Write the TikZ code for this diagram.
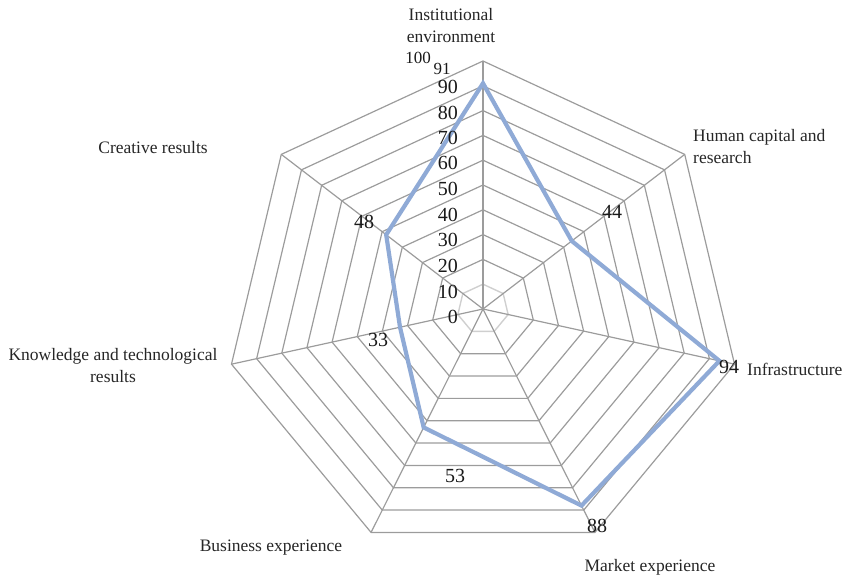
\documentclass[tikz,border=0pt]{standalone}
\usepackage{fontspec}
\setmainfont{Liberation Serif}
\definecolor{gridc}{HTML}{9C9C9C}
\definecolor{gridlight}{HTML}{CFCFCF}
\definecolor{serc}{RGB}{143,170,214}
\begin{document}
\begin{tikzpicture}[x=1pt,y=-1pt,
  cat/.style={font=\fontsize{17.5}{22}\selectfont, inner sep=0pt, text=black!85},
  num/.style={font=\fontsize{20}{20}\selectfont, inner sep=0pt, text=black!90},
  smallnum/.style={font=\fontsize{17}{17}\selectfont, inner sep=0pt, text=black!90},
  gridline/.style={draw=gridc, line width=1.2pt},
  innerline/.style={draw=gridlight, line width=1.4pt},
  series/.style={draw=serc, line width=4.2pt, line join=miter},
  ]
\useasboundingbox (0,0) rectangle (846,577);
\begin{scope}[shift={(483,309)}, x=2.58pt, y=2.48pt]
  \foreach \r in {20,30,...,100}
    \draw[gridline] (90:\r) \foreach \k in {1,...,6} { -- ({90-\k*360/7}:\r) } -- cycle;
  \draw[innerline] (90:10) \foreach \k in {1,...,6} { -- ({90-\k*360/7}:10) } -- cycle;
  \foreach \k in {0,...,6}
    \draw[gridline] (0,0) -- ({90-\k*360/7}:100);
  \coordinate (d0) at (90:91);
  \coordinate (d1) at ({90-1*360/7}:44);
  \coordinate (d2) at ({90-2*360/7}:94);
  \coordinate (d3) at ({90-3*360/7}:88);
  \coordinate (d4) at ({90-4*360/7}:53);
  \coordinate (d5) at ({90-5*360/7}:33);
  \coordinate (d6) at ({90-6*360/7}:48);
  \draw[series] (d0) -- (d1) -- (d2) -- (d3) -- (d4) -- (d5) -- (d6) -- cycle;
\end{scope}
% axis tick labels
\node[smallnum, anchor=east] (t100) at (431,58) {100};
\node[num, anchor=east] (t90) at (458,87) {90};
\node[num, anchor=east] (t80) at (458,113) {80};
\node[num, anchor=east] (t70) at (458,138) {70};
\node[num, anchor=east] (t60) at (458,163) {60};
\node[num, anchor=east] (t50) at (458,189) {50};
\node[num, anchor=east] (t40) at (458,215) {40};
\node[num, anchor=east] (t30) at (458,240) {30};
\node[num, anchor=east] (t20) at (458,266) {20};
\node[num, anchor=east] (t10) at (458,292) {10};
\node[num, anchor=east] (t0) at (458,317) {0};
% data labels
\node[smallnum] (l0) at (442,69) {91};
\node[num] (l1) at (612,212) {44};
\node[num] (l2) at (729,367) {94};
\node[num] (l3) at (597,526) {88};
\node[num] (l4) at (455,476) {53};
\node[num] (l5) at (378,340) {33};
\node[num] (l6) at (364,222) {48};
% category labels
\node[cat, align=center] (c0) at (451,26) {Institutional\\environment};
\node[cat, align=left, anchor=west] (c1) at (693,147) {Human capital and\\research};
\node[cat, anchor=west] (c2) at (747,369) {Infrastructure};
\node[cat] (c3) at (650,567) {Market experience};
\node[cat] (c4) at (271,548) {Business experience};
\node[cat, align=center] (c5) at (113,366) {Knowledge and technological\\results};
\node[cat] (c6) at (153,148) {Creative results};
\end{tikzpicture}
\end{document}
